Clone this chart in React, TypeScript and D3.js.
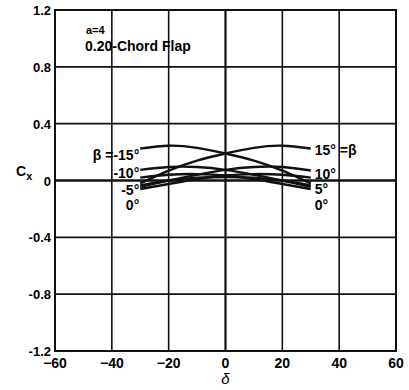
import * as d3 from 'd3'
import { useEffect, useRef } from 'react'

// flap deflection (deg) where each curve was read
const deltas = [-30, -20, -10, 0, 10, 20, 30]

// Cx for each sideslip angle beta
const betaM15 = [0.225, 0.245, 0.23, 0.19, 0.14, 0.07, -0.02]
const betaM10 = [0.075, 0.095, 0.095, 0.075, 0.04, 0.0, -0.045]
const betaM5 = [0.02, 0.04, 0.045, 0.035, 0.01, -0.025, -0.06]
const beta0 = [-0.035, 0.0, 0.02, 0.025, 0.02, 0.0, -0.035]
const beta5 = [-0.06, -0.025, 0.01, 0.035, 0.045, 0.04, 0.02]
const beta10 = [-0.045, 0.0, 0.04, 0.075, 0.095, 0.095, 0.07]
const beta15 = [-0.02, 0.07, 0.14, 0.19, 0.23, 0.245, 0.225]

const xTicks = [-60, -40, -20, 0, 20, 40, 60]
const yTicks = [-1.2, -0.8, -0.4, 0, 0.4, 0.8, 1.2]

// curve labels and the Cx level where each one sits
const leftLabels = ['\u03b2 =-15\u00b0', '-10\u00b0', '-5\u00b0', '0\u00b0']
const leftLabelCx = [0.18, 0.05, -0.07, -0.175]
const rightLabels = ['15\u00b0 =\u03b2', '10\u00b0', '5\u00b0', '0\u00b0']
const rightLabelCx = [0.215, 0.045, -0.06, -0.17]

export default function App() {
    const svgRef = useRef<SVGSVGElement>(null)
    const width = 409
    const height = 390

    useEffect(() => {
        if (!svgRef.current) return
        const svg = d3.select(svgRef.current)
        svg.selectAll('*').remove()

        const margin = { top: 10, right: 13, bottom: 39, left: 55 }
        const x = d3.scaleLinear().domain([-60, 60]).range([margin.left, width - margin.right])
        const y = d3.scaleLinear().domain([-1.2, 1.2]).range([height - margin.bottom, margin.top])
        const font = '"Liberation Sans", Arial, sans-serif'

        // grid
        svg.append('g')
            .selectAll('line')
            .data(xTicks.slice(1, -1))
            .enter()
            .append('line')
            .attr('x1', (d) => x(d))
            .attr('x2', (d) => x(d))
            .attr('y1', y(1.2))
            .attr('y2', y(-1.2))
            .attr('stroke', '#111')
            .attr('stroke-width', (d) => (d === 0 ? 2.2 : 1.6))

        svg.append('g')
            .selectAll('line')
            .data(yTicks.slice(1, -1))
            .enter()
            .append('line')
            .attr('x1', x(-60))
            .attr('x2', x(60))
            .attr('y1', (d) => y(d))
            .attr('y2', (d) => y(d))
            .attr('stroke', '#111')
            .attr('stroke-width', (d) => (d === 0 ? 2.6 : 1.6))

        svg.append('rect')
            .attr('x', x(-60))
            .attr('y', y(1.2))
            .attr('width', x(60) - x(-60))
            .attr('height', y(-1.2) - y(1.2))
            .attr('fill', 'none')
            .attr('stroke', '#111')
            .attr('stroke-width', 2)

        // tick labels
        svg.append('g')
            .selectAll('text')
            .data(xTicks)
            .enter()
            .append('text')
            .attr('x', (d) => x(d))
            .attr('y', y(-1.2) + 17)
            .attr('text-anchor', 'middle')
            .style('font', `bold 14px ${font}`)
            .text((d) => (d < 0 ? `\u2212${-d}` : `${d}`))

        svg.append('g')
            .selectAll('text')
            .data(yTicks)
            .enter()
            .append('text')
            .attr('x', x(-60) - 4)
            .attr('y', (d) => y(d) + 5)
            .attr('text-anchor', 'end')
            .style('font', `bold 13px ${font}`)
            .text((d) => (d === 0 ? '0' : d < 0 ? `-${d3.format('.1f')(-d)}` : d3.format('.1f')(d)))

        // axis titles
        svg.append('text')
            .attr('x', x(0))
            .attr('y', height - 6)
            .attr('text-anchor', 'middle')
            .style('font', `italic 15px ${font}`)
            .text('\u03b4')

        const cx = svg.append('text').attr('x', 16).attr('y', y(0) - 5).style('font', `bold 14px ${font}`)
        cx.append('tspan').text('C')
        cx.append('tspan').attr('dy', 4).style('font-size', '11px').text('x')

        svg.append('text')
            .attr('x', 86)
            .attr('y', 34)
            .style('font', `bold 11px ${font}`)
            .text('a=4')
        svg.append('text')
            .attr('x', 85)
            .attr('y', 51)
            .style('font', `bold 14px ${font}`)
            .text('0.20-Chord Flap')

        // curves
        const series = [betaM15, betaM10, betaM5, beta0, beta5, beta10, beta15]
        const line = d3
            .line<number>()
            .x((_, i) => x(deltas[i]))
            .y((d) => y(d))
            .curve(d3.curveNatural)

        svg.append('g')
            .selectAll('path')
            .data(series)
            .enter()
            .append('path')
            .attr('d', (d) => line(d))
            .attr('fill', 'none')
            .attr('stroke', '#111')
            .attr('stroke-width', 2.4)

        // curve labels
        svg.append('g')
            .selectAll('text')
            .data(leftLabels)
            .enter()
            .append('text')
            .attr('x', x(-30) - 1)
            .attr('y', (_, i) => y(leftLabelCx[i]) + 5)
            .attr('text-anchor', 'end')
            .style('font', `bold 14px ${font}`)
            .text((d) => d)

        svg.append('g')
            .selectAll('text')
            .data(rightLabels)
            .enter()
            .append('text')
            .attr('x', x(30) + 4)
            .attr('y', (_, i) => y(rightLabelCx[i]) + 5)
            .style('font', `bold 14px ${font}`)
            .text((d) => d)
    }, [])

    return (
        <svg
            ref={svgRef}
            width={width}
            height={height}
            style={{ position: 'absolute', left: 0, top: 0, background: '#fff' }}
        />
    )
}
